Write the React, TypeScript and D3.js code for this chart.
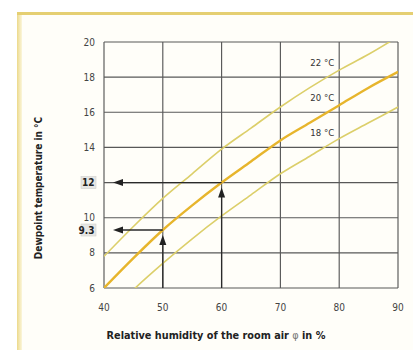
import React from "react";
import * as d3 from "d3";

const rh = [40, 45, 50, 55, 60, 65, 70, 75, 80, 85, 90];
const td18 = [4.2, 5.9, 7.4, 8.8, 10.1, 11.3, 12.5, 13.5, 14.5, 15.4, 16.3];
const td20 = [6.0, 7.7, 9.3, 10.7, 12.0, 13.2, 14.4, 15.4, 16.4, 17.4, 18.3];
const td22 = [7.8, 9.5, 11.1, 12.5, 13.9, 15.1, 16.3, 17.4, 18.4, 19.3, 20.3];
const xTicks = [40, 50, 60, 70, 80, 90];
const yTicks = [6, 8, 10, 12, 14, 16, 18, 20];
const highlighted = [12, 9.3];
const readings = [
  { rh: 60, td: 12 },
  { rh: 50, td: 9.3 },
];
const curveLabels = ["22 °C", "20 °C", "18 °C"];

const W = 419;
const H = 350;
const x = d3.scaleLinear().domain([40, 90]).range([104, 398]);
const y = d3.scaleLinear().domain([6, 20]).range([288, 42]);
const font = "'DejaVu Sans Condensed', 'DejaVu Sans', sans-serif";

export default function App() {
  const line = (vals: number[]) =>
    d3
      .line<number>()
      .x((_, i) => x(rh[i]))
      .y((d) => y(d))
      .curve(d3.curveMonotoneX)(vals) || "";

  const series = [
    { vals: td22, color: "#dccf6a", w: 1.6, label: curveLabels[0], ly: 19 },
    { vals: td20, color: "#e7b52c", w: 2.4, label: curveLabels[1], ly: 17 },
    { vals: td18, color: "#dccf6a", w: 1.6, label: curveLabels[2], ly: 15 },
  ];

  return (
    <svg
      width={W}
      height={H}
      style={{ position: "absolute", left: 0, top: 0, background: "#ffffff" }}
    >
      <defs>
        <clipPath id="plot">
          <rect x={x(40)} y={y(20)} width={x(90) - x(40)} height={y(6) - y(20)} />
        </clipPath>
        <linearGradient id="lb" x1="0" x2="1" y1="0" y2="0">
          <stop offset="0" stopColor="#ecd98a" />
          <stop offset="1" stopColor="#fbf6dc" />
        </linearGradient>
      </defs>
      <rect x={17} y={12} width={396} height={338} fill="#fffef9" />
      <rect x={17} y={12} width={5} height={338} fill="url(#lb)" />
      <rect x={17} y={12} width={396} height={3} fill="#e5cf72" />

      {/* grid */}
      <g stroke="#585858" strokeWidth={1.15}>
        {xTicks.map((t) => (
          <line key={"gx" + t} x1={x(t)} x2={x(t)} y1={y(20)} y2={y(6)} />
        ))}
        {yTicks.map((t) => (
          <line key={"gy" + t} x1={x(40)} x2={x(90)} y1={y(t)} y2={y(t)} />
        ))}
      </g>

      {/* curves */}
      <g clipPath="url(#plot)" fill="none">
        {series.map((s, i) => (
          <path key={i} d={line(s.vals)} stroke={s.color} strokeWidth={s.w} />
        ))}
      </g>

      {/* curve labels */}
      {series.map((s, i) => (
        <text
          key={"l" + i}
          x={x(80) - 5}
          y={y(s.ly) + 6.5}
          fontFamily={font}
          fontSize={9.5}
          fill="#333"
          textAnchor="end"
        >
          {s.label}
        </text>
      ))}

      {/* reading arrows */}
      {readings.map((r, i) => {
        const px = x(r.rh);
        const py = y(r.td);
        const tipX = x(40) + 9;
        const tipY = py + 5;
        return (
          <g key={"a" + i} fill="#222" stroke="#2a2a2a" strokeWidth={1.3}>
            <line x1={px} x2={tipX + 8} y1={py} y2={py} />
            <line x1={px} x2={px} y1={y(6)} y2={tipY + 8} />
            <path
              stroke="none"
              d={`M${tipX},${py} L${tipX + 10},${py - 3.5} L${tipX + 10},${py + 3.5} Z`}
            />
            <path
              stroke="none"
              d={`M${px},${tipY} L${px - 3.5},${tipY + 10} L${px + 3.5},${tipY + 10} Z`}
            />
          </g>
        );
      })}

      {/* y ticks */}
      {yTicks
        .filter((t) => !highlighted.includes(t))
        .map((t) => (
          <text
            key={"yt" + t}
            x={95}
            y={y(t) + 3.5}
            fontFamily={font}
            fontSize={10}
            fill="#444"
            textAnchor="end"
          >
            {t}
          </text>
        ))}
      {highlighted.map((t) => (
        <g key={"h" + t}>
          <rect x={81} y={y(t) - 6} width={15} height={12} fill="#e6e6e4" stroke="#d0d0cc" strokeWidth={0.6} />
          <text
            x={94.5}
            y={y(t) + 3.8}
            fontFamily={font}
            fontSize={10}
            fontWeight="bold"
            fill="#222"
            textAnchor="end"
          >
            {String(t)}
          </text>
        </g>
      ))}

      {/* x ticks */}
      {xTicks.map((t) => (
        <text
          key={"xt" + t}
          x={x(t)}
          y={311}
          fontFamily={font}
          fontSize={10}
          fill="#444"
          textAnchor="middle"
        >
          {t}
        </text>
      ))}

      {/* axis titles */}
      <text
        x={216}
        y={339}
        fontFamily={font}
        fontSize={10.8}
        fontWeight="bold"
        fill="#222"
        textAnchor="middle"
      >
        Relative humidity of the room air <tspan fontWeight="normal" fill="#777">φ</tspan> in %
      </text>
      <text
        transform={`translate(42,188) rotate(-90)`}
        fontFamily={font}
        fontSize={10}
        fontWeight="bold"
        fill="#222"
        textAnchor="middle"
      >
        Dewpoint temperature in °C
      </text>
    </svg>
  );
}
